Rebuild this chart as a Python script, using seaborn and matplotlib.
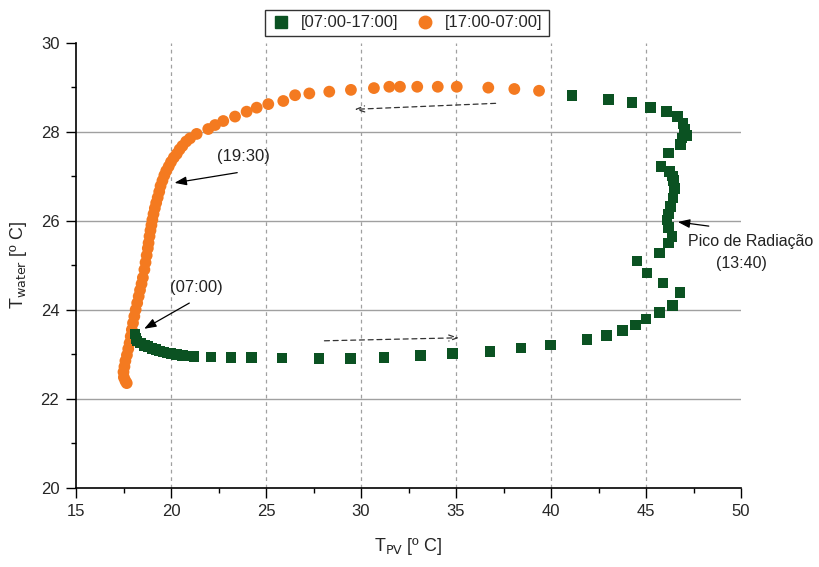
import numpy as np
import pandas as pd
import matplotlib
matplotlib.use("Agg")
import matplotlib.pyplot as plt
import seaborn as sns
from matplotlib.ticker import MultipleLocator

# ---------------- data ----------------
day_label = "[07:00-17:00]"
night_label = "[17:00-07:00]"

# 07:00-17:00 (green squares)
day_x = [18.1, 18.15, 18.2, 18.4, 18.6, 18.8, 19.0, 19.2, 19.4, 19.6, 19.8, 20.0,
         20.3, 20.6, 20.9, 21.2, 22.1, 23.15, 24.25, 25.85, 27.8, 29.45, 31.2,
         33.14, 34.83, 36.8, 38.43, 39.96, 41.9, 42.91, 43.77, 44.44, 45.01,
         45.71, 46.38, 46.78, 45.9, 45.05, 44.53, 45.72, 46.19, 46.37, 46.18,
         46.11, 46.18, 46.28, 46.42, 46.51, 46.45, 46.38, 46.25, 45.79, 46.19,
         46.81, 46.9, 47.16, 47.02, 46.95, 46.67, 46.08, 45.23, 44.27, 43.04,
         41.1]
day_y = [23.45, 23.35, 23.3, 23.25, 23.2, 23.17, 23.13, 23.1, 23.07, 23.05, 23.03,
         23.01, 22.99, 22.97, 22.96, 22.95, 22.94, 22.92, 22.92, 22.91, 22.9, 22.9,
         22.93, 22.97, 23.01, 23.06, 23.14, 23.21, 23.33, 23.42, 23.53, 23.66,
         23.79, 23.94, 24.09, 24.39, 24.6, 24.82, 25.09, 25.27, 25.5, 25.65,
         25.85, 26.02, 26.15, 26.32, 26.51, 26.73, 26.9, 27.0, 27.1, 27.22, 27.52,
         27.71, 27.86, 27.92, 28.05, 28.19, 28.34, 28.46, 28.55, 28.66, 28.73,
         28.81]

# 17:00-07:00 (orange circles)
night_x = [39.37, 38.07, 36.7, 35.04, 34.04, 32.96, 32.05, 31.49, 30.68, 29.47,
           28.33, 27.28, 26.53, 25.91, 25.12, 24.51, 23.98, 23.37, 22.75, 22.32,
           21.96, 21.35, 21.0, 20.8, 20.6, 20.45, 20.3, 20.15, 20.0, 19.88, 19.75,
           19.65, 19.55, 19.45, 19.38, 19.3, 19.22, 19.15, 19.08, 19.02, 18.97,
           18.92, 18.87, 18.82, 18.78, 18.72, 18.66, 18.6, 18.52, 18.45, 18.37,
           18.3, 18.22, 18.14, 18.07, 18.0, 17.94, 17.88, 17.82, 17.75, 17.68,
           17.6, 17.55, 17.5, 17.52, 17.6, 17.67]
night_y = [28.92, 28.96, 28.99, 29.01, 29.01, 29.01, 29.01, 29.01, 28.98, 28.94,
           28.9, 28.86, 28.82, 28.69, 28.62, 28.54, 28.45, 28.34, 28.24, 28.15,
           28.06, 27.95, 27.85, 27.78, 27.68, 27.6, 27.5, 27.42, 27.32, 27.22,
           27.12, 27.02, 26.9, 26.78, 26.65, 26.52, 26.4, 26.28, 26.15, 26.02,
           25.9, 25.78, 25.65, 25.5, 25.38, 25.22, 25.06, 24.9, 24.72, 24.58,
           24.44, 24.3, 24.15, 24.0, 23.85, 23.7, 23.55, 23.4, 23.25, 23.12,
           22.98, 22.85, 22.72, 22.6, 22.48, 22.4, 22.35]

x_ticks = [15, 20, 25, 30, 35, 40, 45, 50]
y_ticks = [20, 22, 24, 26, 28, 30]

green = "#0B5222"
orange = "#F47A20"

# ---------------- figure ----------------
sns.set_theme(style="white")
plt.rcParams["font.family"] = ["Liberation Sans", "DejaVu Sans"]

fig = plt.figure(figsize=(8.19, 5.67), dpi=100)
ax = fig.add_axes([76 / 819, 1 - 487.7 / 567, (741 - 76) / 819, (487.7 - 42.7) / 567])

df = pd.concat([
    pd.DataFrame({"T_PV": night_x, "T_water": night_y, "Periodo": night_label}),
    pd.DataFrame({"T_PV": day_x, "T_water": day_y, "Periodo": day_label}),
], ignore_index=True)

sns.scatterplot(data=df, x="T_PV", y="T_water", hue="Periodo", style="Periodo",
                hue_order=[day_label, night_label], style_order=[day_label, night_label],
                palette={day_label: green, night_label: orange},
                markers={day_label: "s", night_label: "o"},
                size="Periodo", sizes={day_label: 58, night_label: 72},
                linewidth=0, ax=ax, zorder=3, legend=False)

ax.set_xlim(15, 50)
ax.set_ylim(20, 30)
ax.set_xticks(x_ticks)
ax.set_yticks(y_ticks)
ax.xaxis.set_minor_locator(MultipleLocator(2.5))
ax.yaxis.set_minor_locator(MultipleLocator(1))
ax.tick_params(axis="both", which="major", direction="out", length=7, width=1,
               color="black", labelsize=12, pad=5, bottom=True, left=True)
ax.tick_params(axis="both", which="minor", direction="out", length=3.5, width=1,
               color="black", bottom=True, left=True)

for s in ["top", "right"]:
    ax.spines[s].set_visible(False)
for s in ["left", "bottom"]:
    ax.spines[s].set_color("black")
    ax.spines[s].set_linewidth(1.2)

# grid lines
for yv in [22, 24, 26, 28]:
    ax.axhline(yv, color="#A0A0A0", lw=1, zorder=1)
for xv in [20, 25, 30, 35, 40, 45]:
    ax.axvline(xv, color="#A0A0A0", lw=0.9, ls=(0, (3, 3)), zorder=1)

ax.set_xlabel("T$_{\\mathrm{PV}}$ [º C]", fontsize=13, labelpad=12)
ax.set_ylabel("T$_{\\mathrm{water}}$ [º C]", fontsize=13, labelpad=8)

# annotations
arrow_kw = dict(arrowstyle="-|>,head_length=0.6,head_width=0.22", color="black", lw=0.9)
ax.annotate("", xy=(20.04, 26.84), xytext=(23.63, 27.09), arrowprops=arrow_kw, zorder=4)
ax.text(23.79, 27.45, "(19:30)", fontsize=12, ha="center", va="center", color="#222222")
ax.annotate("", xy=(18.46, 23.54), xytext=(21.09, 24.18), arrowprops=arrow_kw, zorder=4)
ax.text(21.32, 24.5, "(07:00)", fontsize=12, ha="center", va="center", color="#222222")
ax.annotate("", xy=(46.53, 25.98), xytext=(48.45, 25.87), arrowprops=arrow_kw,
            zorder=4, annotation_clip=False)
ax.text(47.2, 25.53, "Pico de Radiação", fontsize=11.5, ha="left", va="center",
        color="#222222", clip_on=False)
ax.text(50.0, 25.03, "(13:40)", fontsize=11.5, ha="center", va="center",
        color="#222222", clip_on=False)

dash_kw = dict(arrowstyle="->,head_length=0.5,head_width=0.18", color="#333333",
               lw=0.9, linestyle=(0, (4, 3)))
ax.annotate("", xy=(29.51, 28.50), xytext=(37.23, 28.64), arrowprops=dash_kw, zorder=4)
ax.annotate("", xy=(35.3, 23.37), xytext=(27.93, 23.30), arrowprops=dash_kw, zorder=4)

# legend
handles = [
    plt.Line2D([], [], marker="s", color=green, ls="none", markersize=8),
    plt.Line2D([], [], marker="o", color=orange, ls="none", markersize=9),
]
leg = fig.legend(handles, [day_label, night_label], loc="center",
                 bbox_to_anchor=(407 / 819, 1 - 23 / 567), ncol=2, fontsize=12,
                 frameon=True, fancybox=False, edgecolor="black", handletextpad=0.6,
                 columnspacing=1.0, borderpad=0.35, handlelength=1.2)
leg.get_frame().set_linewidth(1.0)

fig.savefig("out.png", dpi=100)
